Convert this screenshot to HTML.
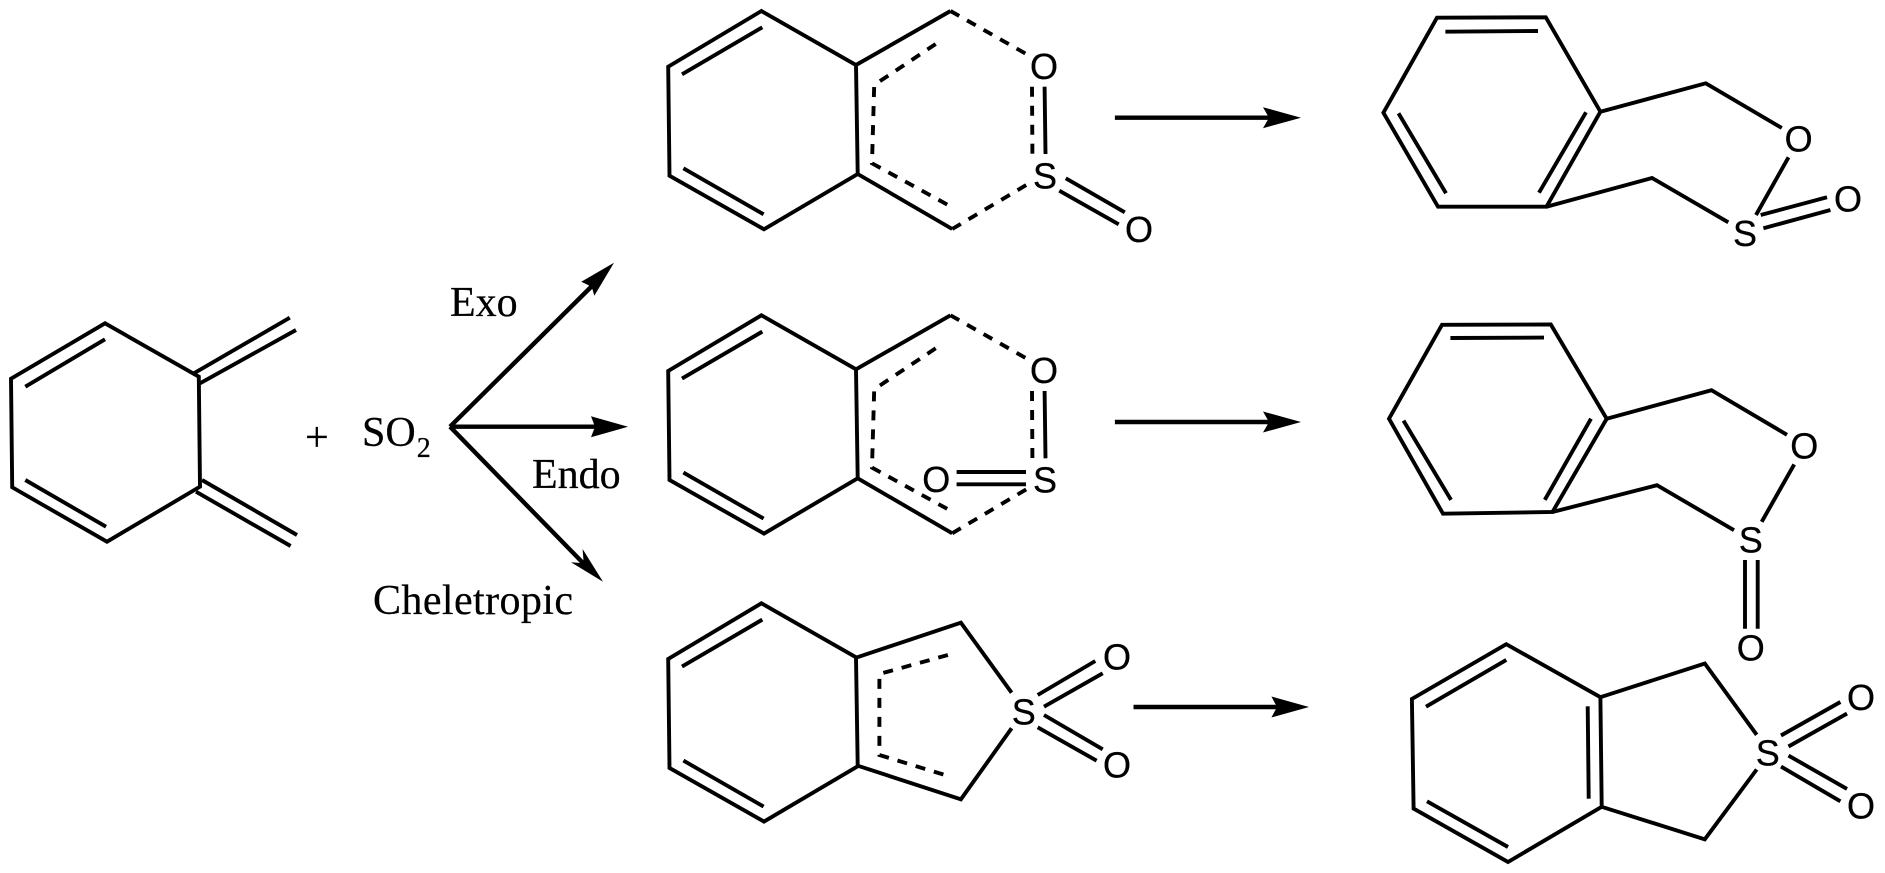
<!DOCTYPE html>
<html><head><meta charset="utf-8"><style>
html,body{margin:0;padding:0;background:#fff;width:1885px;height:873px;overflow:hidden}
svg{display:block}
.b{stroke:#000;stroke-width:3.9;fill:none;stroke-linejoin:miter;stroke-linecap:butt}
.d{stroke:#000;stroke-width:3.9;fill:none;stroke-dasharray:10 9}
.a{stroke:#000;stroke-width:4.4;fill:none}
.s{font-family:"Liberation Sans",sans-serif;font-size:36px;text-anchor:middle;fill:#000;stroke:#000;stroke-width:.3}
.t{font-family:"Liberation Serif",serif;font-size:42px;fill:#000;stroke:#000;stroke-width:.25}
</style></head><body>
<svg width="1885" height="873" viewBox="0 0 1885 873" xmlns="http://www.w3.org/2000/svg">
<defs>
<g id="hex">
<path class="b" d="M761.4 11L668.2 66.7L669.5 175.7L764 229.3L857.7 174L856 65Z"/>
<path class="b" d="M682 74.3L762.3 27.3M683.4 168.3L763.6 214.3"/>
</g>
</defs>

<!-- left diene -->
<path class="b" d="M105 323.3L11 378.7L12.2 487.3L107 541.7L200 486.7L198.8 376.7Z"/>
<path class="b" d="M25.3 386.7L105 339.3M25.3 480L106 526.7"/>
<path class="b" d="M193.9 373.3L289.8 317.7M200 383.3L296 330M202 480L297 535M196 491.7L290.6 546"/>
<text class="t" x="305" y="451">+</text>
<text class="t" x="362" y="446">SO<tspan font-size="28" dy="11" dx="1">2</tspan></text>

<!-- reaction arrows -->
<path class="a" d="M450 426.7L592 286M450 426.7H596M450 426.7L584 564"/>
<path d="M614 262.7L581.3 281.7L591.7 286.7L594.3 295.7Z"/>
<path d="M628 426.7L591 416.2L595 426.7L591 437.2Z"/>
<path d="M603 581.7L571 562.3L583.7 563.3L582.6 549Z"/>
<text class="t" x="450" y="316">Exo</text>
<text class="t" x="532" y="488">Endo</text>
<text class="t" x="373" y="614" textLength="200">Cheletropic</text>

<!-- exo TS -->
<use href="#hex"/>
<path class="b" d="M856 65L950.5 11M857.7 174L952.2 229"/>
<path class="d" d="M950.5 11L1028 55M952.2 229L1028 184"/>
<path class="d" d="M935.7 44L874.2 85L872 163.3L948 205"/>
<path class="d" d="M1032 86.7L1032.4 154"/>
<path class="b" d="M1044.6 86.7L1045.5 154M1065.8 178.3L1124.8 212.3M1059.3 190.7L1118.7 224.3"/>
<text class="s" x="1044" y="79">O</text>
<text class="s" x="1045" y="188.5">S</text>
<text class="s" x="1139" y="242">O</text>
<path class="a" d="M1114.9 117.7H1270"/>
<path d="M1301 117.7L1263 107.2L1269 117.7L1263 128.2Z"/>

<!-- endo TS -->
<g transform="translate(0,304.3)">
<use href="#hex"/>
<path class="b" d="M856 65L950.5 11M857.7 174L952.2 229"/>
<path class="d" d="M950.5 11L1028 55M952.2 229L1028 184"/>
<path class="d" d="M935.7 44L874.2 85L872 163.3L948 205"/>
<path class="d" d="M1032 86.7L1032.4 154"/>
<path class="b" d="M1044.6 86.7L1045.5 154"/>
<path class="a" d="M1114.9 117.7H1270"/>
<path d="M1301 117.7L1263 107.2L1269 117.7L1263 128.2Z"/>
</g>
<path class="b" d="M956.6 472H1026M956.6 484.3H1026"/>
<text class="s" x="1044" y="383">O</text>
<text class="s" x="1045" y="492.5">S</text>
<text class="s" x="936.2" y="492">O</text>

<!-- cheletropic TS -->
<g transform="translate(0,592.3)"><use href="#hex"/></g>
<path class="b" d="M856 657.7L960.9 622.7L1011.6 692.7M857.7 765.7L960.9 799.3L1011.6 728.3"/>
<path class="d" d="M947.9 655L879.4 674L879.4 755L950.5 776.7"/>
<path class="b" d="M1037.7 695L1095.3 661M1044 706.7L1102.7 673.3M1044 715L1102.7 749.3M1037.7 727.3L1096.6 760.7"/>
<text class="s" x="1023.8" y="724.5">S</text>
<text class="s" x="1117" y="669.5">O</text>
<text class="s" x="1117" y="777.5">O</text>
<path class="a" d="M1133.5 707H1278"/>
<path d="M1309 707L1271.4 696.5L1277 707L1271.4 717.5Z"/>

<!-- product 1 -->
<path class="b" d="M1437 17.7L1545.8 17.3L1600.4 111.7L1546.5 206.7L1438 206.7L1383.4 112.7Z"/>
<path class="b" d="M1445.4 31.7L1538 31M1398.5 113.3L1446 193.3M1586 112.3L1539 192.7"/>
<path class="b" d="M1600.4 111.7L1705.8 83.3L1781.8 128M1546.5 206.7L1652 178L1728.3 222.3M1788.5 157.3L1756 215M1760.7 215L1827 197.3M1763.4 228.3L1830.4 210"/>
<text class="s" x="1798.6" y="151.5">O</text>
<text class="s" x="1745" y="246">S</text>
<text class="s" x="1848" y="211.5">O</text>

<!-- product 2 -->
<path class="b" d="M1442 324.8L1550.8 324.5L1606.7 418.7L1552.5 512L1443 513.7L1389 418.7Z"/>
<path class="b" d="M1450.4 338L1544 337.6M1403.5 420.6L1451 499.9M1591 418.7L1544.8 499.9"/>
<path class="b" d="M1606.7 418.7L1711.5 390.2L1787 434.8M1552.5 512L1657 485.2L1734 530.2M1794.2 464.4L1761.7 521.8M1745 560V628.8M1757.7 560V628.8"/>
<text class="s" x="1804.3" y="458.5">O</text>
<text class="s" x="1750.7" y="552.5">S</text>
<text class="s" x="1750.7" y="660.5">O</text>

<!-- product 3 -->
<path class="b" d="M1506.3 644.2L1411.9 699L1413.6 808.6L1508 862L1601.7 806.8L1600.4 697.2Z"/>
<path class="b" d="M1426 706.7L1506.3 659.9M1427 801.3L1508 847M1587.7 706.3L1588.7 798.7"/>
<path class="b" d="M1600.4 697.2L1704.8 663.5L1756.7 734.8M1601.7 806.8L1704.8 839.3L1756.7 769.5"/>
<path class="b" d="M1781 735.5L1840.4 702M1788.5 746.5L1847 713.6M1788.5 755.6L1847 788.9M1781 766.6L1840.4 801.3"/>
<text class="s" x="1767.8" y="765.5">S</text>
<text class="s" x="1861" y="710">O</text>
<text class="s" x="1861" y="818.5">O</text>
</svg>
</body></html>
